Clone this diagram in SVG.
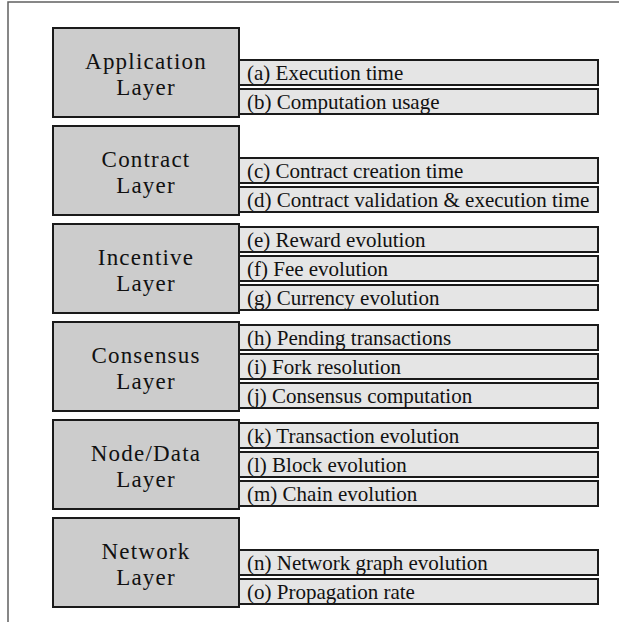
<svg xmlns="http://www.w3.org/2000/svg" width="619" height="622" viewBox="0 0 619 622">
<style>
.frame{fill:none;stroke:#606060;stroke-width:1.5}
.layer{fill:#cccccc;stroke:#1a1a1a;stroke-width:2}
.item{fill:#e5e5e5;stroke:#1a1a1a;stroke-width:2}
.lt{font-family:"Liberation Serif","Times New Roman",serif;font-size:23px;letter-spacing:1.2px;fill:#111;text-anchor:middle}
.it{font-family:"Liberation Serif","Times New Roman",serif;font-size:21px;fill:#111}
</style>
<rect width="619" height="622" fill="#ffffff"/>
<path class="frame" d="M8,622 V2 H619"/>
<g id="connectors"></g>
<g id="application">
<rect class="item" x="239" y="60" width="359" height="25"/>
<rect class="item" x="239" y="89" width="359" height="25"/>
<text class="it" x="247" y="80">(a) Execution time</text>
<text class="it" x="247" y="109">(b) Computation usage</text>
<rect class="layer" x="53" y="28" width="186" height="89"/>
<text class="lt" x="146" y="69">Application</text>
<text class="lt" x="146" y="95">Layer</text>
</g>
<g id="contract">
<rect class="item" x="239" y="158" width="359" height="25"/>
<rect class="item" x="239" y="187" width="359" height="25"/>
<text class="it" x="247" y="178">(c) Contract creation time</text>
<text class="it" x="247" y="207">(d) Contract validation &amp; execution time</text>
<rect class="layer" x="53" y="126" width="186" height="89"/>
<text class="lt" x="146" y="167">Contract</text>
<text class="lt" x="146" y="193">Layer</text>
</g>
<g id="incentive">
<rect class="item" x="239" y="227" width="359" height="25"/>
<rect class="item" x="239" y="256" width="359" height="25"/>
<rect class="item" x="239" y="285" width="359" height="25"/>
<text class="it" x="247" y="247">(e) Reward evolution</text>
<text class="it" x="247" y="276">(f) Fee evolution</text>
<text class="it" x="247" y="305">(g) Currency evolution</text>
<rect class="layer" x="53" y="224" width="186" height="89"/>
<text class="lt" x="146" y="265">Incentive</text>
<text class="lt" x="146" y="291">Layer</text>
</g>
<g id="consensus">
<rect class="item" x="239" y="325" width="359" height="25"/>
<rect class="item" x="239" y="354" width="359" height="25"/>
<rect class="item" x="239" y="383" width="359" height="25"/>
<text class="it" x="247" y="345">(h) Pending transactions</text>
<text class="it" x="247" y="374">(i) Fork resolution</text>
<text class="it" x="247" y="403">(j) Consensus computation</text>
<rect class="layer" x="53" y="322" width="186" height="89"/>
<text class="lt" x="146" y="363">Consensus</text>
<text class="lt" x="146" y="389">Layer</text>
</g>
<g id="nodedata">
<rect class="item" x="239" y="423" width="359" height="25"/>
<rect class="item" x="239" y="452" width="359" height="25"/>
<rect class="item" x="239" y="481" width="359" height="25"/>
<text class="it" x="247" y="443">(k) Transaction evolution</text>
<text class="it" x="247" y="472">(l) Block evolution</text>
<text class="it" x="247" y="501">(m) Chain evolution</text>
<rect class="layer" x="53" y="420" width="186" height="89"/>
<text class="lt" x="146" y="461">Node/Data</text>
<text class="lt" x="146" y="487">Layer</text>
</g>
<g id="network">
<rect class="item" x="239" y="550" width="359" height="25"/>
<rect class="item" x="239" y="579" width="359" height="25"/>
<text class="it" x="247" y="570">(n) Network graph evolution</text>
<text class="it" x="247" y="599">(o) Propagation rate</text>
<rect class="layer" x="53" y="518" width="186" height="89"/>
<text class="lt" x="146" y="559">Network</text>
<text class="lt" x="146" y="585">Layer</text>
</g>
</svg>
